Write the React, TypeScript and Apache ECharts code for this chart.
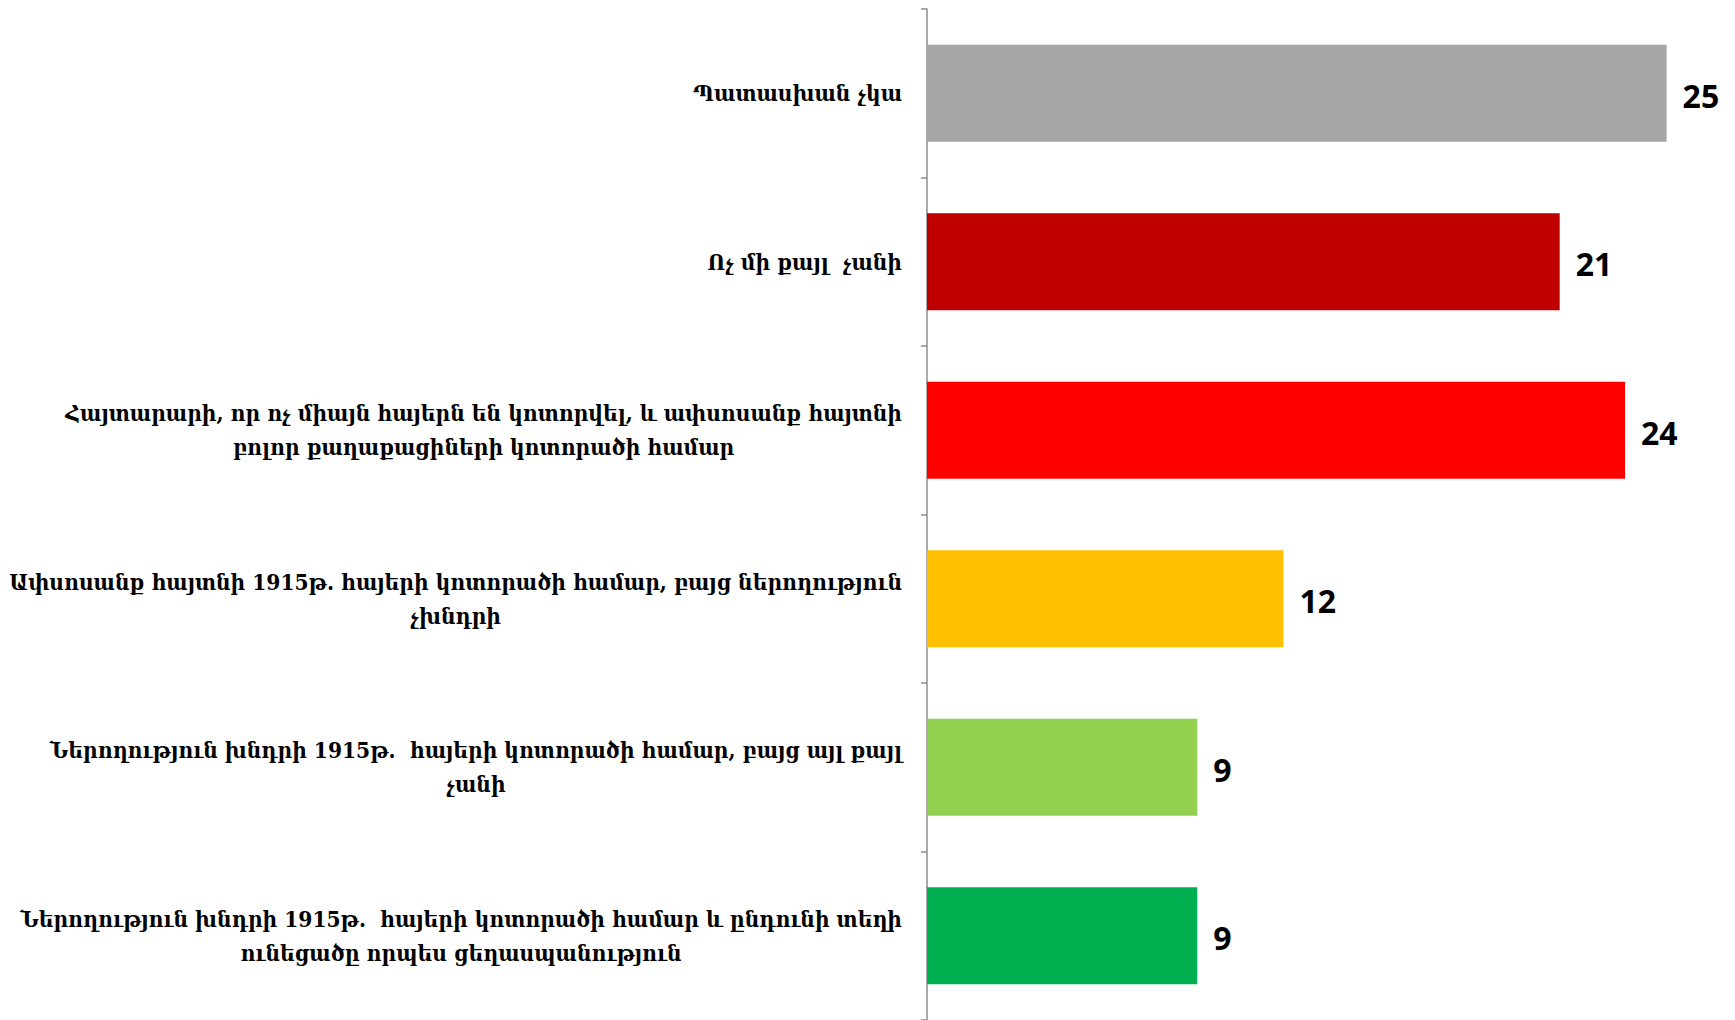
import React, { useEffect, useRef } from "react";
import * as echarts from "echarts";

const categories: string[] = [
  "Պատասխան չկա",
  "Ոչ մի քայլ  չանի",
  "Հայտարարի, որ ոչ միայն հայերն են կոտորվել, և ափսոսանք հայտնի\nբոլոր քաղաքացիների կոտորածի համար",
  "Ափսոսանք հայտնի 1915թ. հայերի կոտորածի համար, բայց ներողություն\nչխնդրի",
  "Ներողություն խնդրի 1915թ.  հայերի կոտորածի համար, բայց այլ քայլ\nչանի",
  "Ներողություն խնդրի 1915թ.  հայերի կոտորածի համար և ընդունի տեղի\nունեցածը որպես ցեղասպանություն",
];

const values: number[] = [24.9, 21.3, 23.5, 12.0, 9.1, 9.1];

const colors: string[] = ["#A6A6A6", "#C00000", "#FF0000", "#FFC000", "#92D050", "#00B050"];

export default function App() {
  const ref = useRef<HTMLDivElement>(null);
  useEffect(() => {
    if (!ref.current) return;
    const chart = echarts.init(ref.current, null, { renderer: "svg" });
    const armFont = "'DejaVu Serif Condensed', 'DejaVu Serif', serif";
    chart.setOption({
      animation: false,
      backgroundColor: "#ffffff",
      grid: { left: 927, right: 6, top: 9, bottom: -3, containLabel: false },
      xAxis: {
        type: "value",
        min: 0,
        max: 27,
        show: false,
      },
      yAxis: {
        type: "category",
        inverse: true,
        data: categories,
        axisLine: { show: true, lineStyle: { color: "#8C8C8C", width: 1.5 } },
        axisTick: { show: true, length: 6, inside: false, lineStyle: { color: "#8C8C8C", width: 1.5 } },
        axisLabel: {
          interval: 0,
          margin: 25,
          formatter: (v: string) =>
            v
              .split("\n")
              .map((l) => `{c|${l}}`)
              .join("\n"),
          rich: {
            c: {
              align: "center",
              fontFamily: armFont,
              fontWeight: "bold",
              fontSize: 22.5,
              lineHeight: 34,
              color: "#000000",
            },
          },
        },
        splitLine: { show: false },
      },
      series: [
        {
          type: "bar",
          data: values.map((v, i) => ({ value: v, itemStyle: { color: colors[i] } })),
          barWidth: 97,
          label: {
            show: true,
            position: "right",
            distance: 16,
            offset: [0, 2],
            formatter: (p: any) => String(Math.round(p.value)),
            fontFamily: "'Open Sans', 'Noto Sans', sans-serif",
            fontWeight: "bold",
            fontSize: 32,
            color: "#000000",
          },
        },
      ],
    });
    return () => chart.dispose();
  }, []);
  return (
    <div
      ref={ref}
      style={{ position: "absolute", left: 0, top: 0, width: 1735, height: 1020 }}
    />
  );
}
